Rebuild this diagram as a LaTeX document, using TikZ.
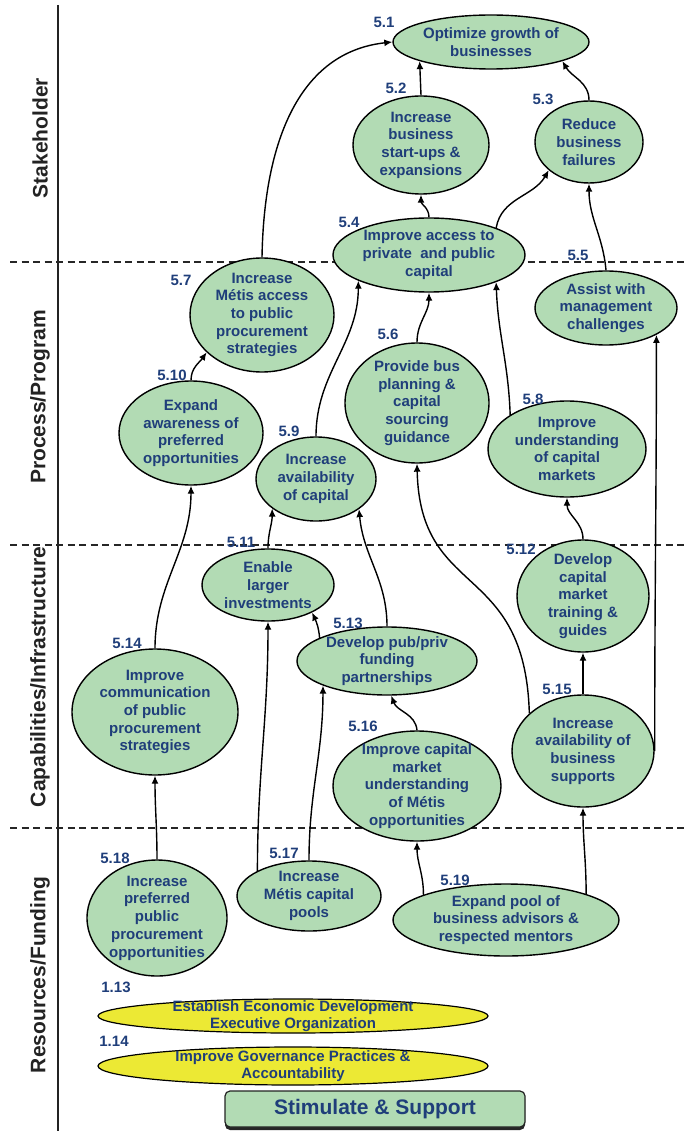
\documentclass[tikz,border=0pt]{standalone}
\usepackage{fontspec}
\setmainfont{Liberation Sans}
\usetikzlibrary{positioning,arrows.meta,shapes.geometric,shadows}
\definecolor{goalgreen}{RGB}{178,219,180}
\definecolor{inityellow}{RGB}{236,233,52}
\definecolor{textblue}{RGB}{31,62,122}
\definecolor{axisgray}{RGB}{35,35,35}
\tikzset{
    goal/.style = {
        draw,
        shape=ellipse,
        fill=goalgreen,
        line width=1.4pt,
        inner sep=-30pt,
        align=center,
        text=textblue,
        font=\bfseries\fontsize{15}{17.7}\selectfont
    },
    initiative/.style = {
        goal,
        fill=inityellow,
        line width=1.2pt
    },
    goalnum/.style = {
        inner sep=0pt,
        text=textblue,
        font=\bfseries\fontsize{15}{17}\selectfont
    },
    support/.style = {
        draw=axisgray,
        shape=rectangle,
        rounded corners=5pt,
        fill=goalgreen,
        line width=1.2pt,
        text=textblue,
        font=\bfseries\fontsize{21}{24}\selectfont,
        drop shadow={shadow xshift=0pt, shadow yshift=-3pt, fill=black!85, opacity=1}
    },
    axislabel/.style = {
        rotate=90,
        text=axisgray,
        font=\bfseries\fontsize{21}{24}\selectfont
    },
    axisline/.style = {draw=axisgray, line width=1.5pt},
    layerline/.style = {draw=black!85, line width=1.5pt, dash pattern=on 7pt off 4.5pt},
    link/.style = {draw, ->, line width=1.4pt},
    >={Latex[length=8pt,width=7pt]},
}
\begin{document}
\begin{tikzpicture}[x=1pt, y=1pt]
    \useasboundingbox (0,0) rectangle (686,-1131);

    % layers
    \draw[axisline] (58,-5) -- (58,-1131);
    \foreach \y in {262,545,828}
        \draw[layerline] (10,-\y) -- (686,-\y);

    \node[axislabel] (stake) at (40,-138) {Stakeholder};
    \node[axislabel] (process) at (40,-397) {Process/Program};
    \node[axislabel] (capab) at (40,-677) {Capabilities/Infrastructure};
    \node[axislabel] (resource) at (40,-975) {Resources/Funding};

    % goals
    \node[goal, minimum width=196pt, minimum height=54pt] (n51) at (491,-42) {Optimize growth of\\businesses};
    \node[goal, minimum width=136pt, minimum height=98pt] (n52) at (421,-145) {Increase\\business\\start-ups \&\\expansions};
    \node[goal, minimum width=108pt, minimum height=82pt] (n53) at (589,-142) {Reduce\\business\\failures};
    \node[goal, minimum width=192pt, minimum height=74pt] (n54) at (429,-255) {Improve access to\\private \ and public\\capital};
    \node[goal, minimum width=142pt, minimum height=74pt] (n55) at (606,-308) {Assist with\\management\\challenges};
    \node[goal, minimum width=144pt, minimum height=120pt] (n56) at (417,-403) {Provide bus\\planning \&\\capital\\sourcing\\guidance};
    \node[goal, minimum width=144pt, minimum height=114pt] (n57) at (262,-315) {Increase\\Métis access\\to public\\procurement\\strategies};
    \node[goal, minimum width=158pt, minimum height=96pt] (n58) at (567,-449) {Improve\\understanding\\of capital\\markets};
    \node[goal, minimum width=120pt, minimum height=84pt] (n59) at (316,-479) {Increase\\availability\\of capital};
    \node[goal, minimum width=144pt, minimum height=104pt] (n510) at (191,-433) {Expand\\awareness of\\preferred\\opportunities};
    \node[goal, minimum width=132pt, minimum height=72pt] (n511) at (268,-585) {Enable\\larger\\investments};
    \node[goal, minimum width=132pt, minimum height=112pt] (n512) at (583,-596) {Develop\\capital\\market\\training \&\\guides};
    \node[goal, minimum width=180pt, minimum height=68pt] (n513) at (387,-661) {Develop pub/priv\\funding\\partnerships};
    \node[goal, minimum width=166pt, minimum height=126pt] (n514) at (155,-712) {Improve\\communication\\of public\\procurement\\strategies};
    \node[goal, minimum width=142pt, minimum height=112pt] (n515) at (583,-751) {Increase\\availability of\\business\\supports};
    \node[goal, minimum width=168pt, minimum height=110pt] (n516) at (417,-786) {Improve capital\\market\\understanding\\of Métis\\opportunities};
    \node[goal, minimum width=144pt, minimum height=70pt] (n517) at (309,-896) {Increase\\Métis capital\\pools};
    \node[goal, minimum width=140pt, minimum height=116pt] (n518) at (157,-918) {Increase\\preferred\\public\\procurement\\opportunities};
    \node[goal, minimum width=226pt, minimum height=72pt] (n519) at (506,-920) {Expand pool of\\business advisors \&\\respected mentors};

    \node[initiative, minimum width=390pt, minimum height=34pt] (n113) at (293,-1016) {Establish Economic Development\\Executive Organization};
    \node[initiative, minimum width=390pt, minimum height=38pt] (n114) at (293,-1066) {Improve Governance Practices \&\\Accountability};

    \node[support, minimum width=300pt, minimum height=36pt] (stim) at (375,-1109) {Stimulate \& Support};

    % numbers
    \node[goalnum] (num51) at (384,-22) {5.1};
    \node[goalnum] (num52) at (396,-88) {5.2};
    \node[goalnum] (num53) at (543,-99) {5.3};
    \node[goalnum] (num54) at (349,-222) {5.4};
    \node[goalnum] (num55) at (578,-255) {5.5};
    \node[goalnum] (num56) at (388,-334) {5.6};
    \node[goalnum] (num57) at (181,-280) {5.7};
    \node[goalnum] (num58) at (533,-399) {5.8};
    \node[goalnum] (num59) at (289,-431) {5.9};
    \node[goalnum] (num510) at (172,-375) {5.10};
    \node[goalnum] (num511) at (241,-542) {5.11};
    \node[goalnum] (num512) at (521,-549) {5.12};
    \node[goalnum] (num513) at (348,-623) {5.13};
    \node[goalnum] (num514) at (127,-643) {5.14};
    \node[goalnum] (num515) at (557,-689) {5.15};
    \node[goalnum] (num516) at (363,-726) {5.16};
    \node[goalnum] (num517) at (284,-853) {5.17};
    \node[goalnum] (num518) at (115,-858) {5.18};
    \node[goalnum] (num519) at (455,-880) {5.19};
    \node[goalnum] (num113) at (116,-987) {1.13};
    \node[goalnum] (num114) at (114,-1041) {1.14};

    % links
    \path[link] (n52.north) -- (n51.195);
    \path[link] (n53.north) to[out=90,in=-60] (n51.345);
    \path[link] (n57.north) .. controls (264,-140) and (300,-52) .. (n51.west);
    \path[link] (n54.north) to[out=90,in=-90] (n52.south);
    \path[link] (n54.22) to[out=80,in=240] (n53.215);
    \path[link] (n55.north) to[out=95,in=-90] (n53.south);
    \path[link] (n56.north) to[out=90,in=-90] (n54.south);
    \path[link] (n58.149) to[out=92,in=-88] (n54.338);
    \path[link] (n59.north) to[out=90,in=-90] (n54.200);
    \path[link] (n510.north) to[out=90,in=-125] (n57.214);
    \path[link] (n514.north) to[out=90,in=-90] (n510.south);
    \path[link] (n511.north) to[out=90,in=-90] (n59.214);
    \path[link] (n513.north) to[out=90,in=-85] (n59.325);
    \path[link] (n513.161) to[out=95,in=-65] (n511.328);
    \path[link] (n515.145) .. controls (525,-560) and (420,-600) .. (n56.south);
    \path[link] (n515.north) -- (n512.south);
    \path[link] (n512.north) to[out=90,in=-90] (n58.south);
    \path[link] (n515.east) to[out=90,in=-90] (n55.332);
    \path[link] (n518.north) to[out=90,in=-90] (n514.south);
    \path[link] (n517.154) to[out=90,in=-90] (n511.south);
    \path[link] (n517.north) to[out=90,in=-90] (n513.201);
    \path[link] (n516.north) to[out=95,in=-70] (n513.277);
    \path[link] (n519.163) to[out=90,in=-90] (n516.south);
    \path[link] (n519.18) to[out=90,in=-90] (n515.south);
\end{tikzpicture}
\end{document}
